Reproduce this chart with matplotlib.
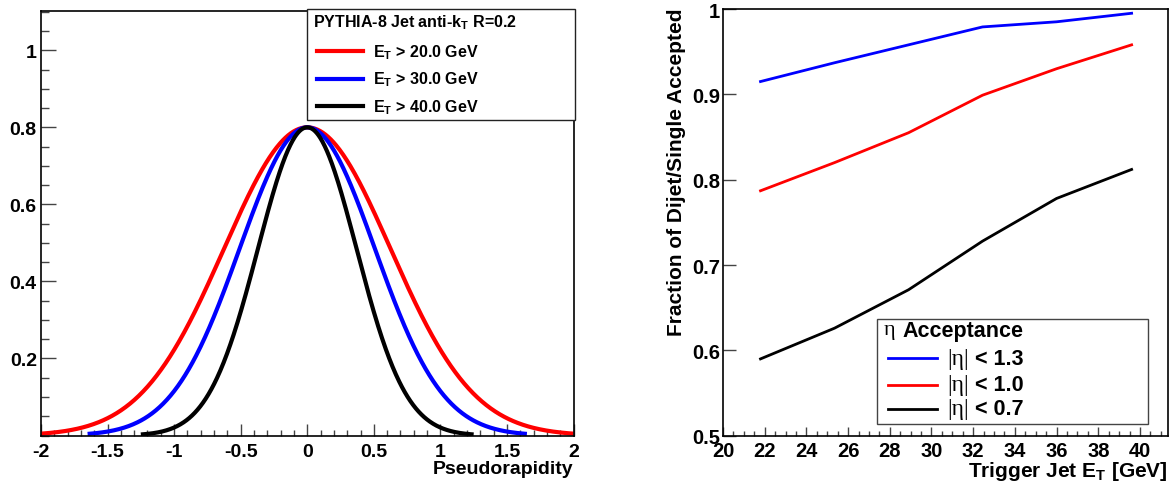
import numpy as np
import matplotlib
matplotlib.use("Agg")
import matplotlib.pyplot as plt
from matplotlib.lines import Line2D
from matplotlib.patches import Rectangle
from matplotlib.ticker import FixedLocator, FixedFormatter, MultipleLocator

# ---------------- data ----------------
# Left panel: Gaussian (ROOT TF1 "gaus") curves, parameters
cut_labels = ["E$_{\\mathbf{T}}$ > 20.0 GeV", "E$_{\\mathbf{T}}$ > 30.0 GeV", "E$_{\\mathbf{T}}$ > 40.0 GeV"]
cut_colors = ["#ff0000", "#0000ff", "#000000"]
gaus_amplitude = [0.8, 0.8, 0.8]
gaus_mean = [0.0, 0.0, 0.0]
gaus_sigma = [0.625, 0.508, 0.370]
gaus_range = [2.0, 1.65, 1.25]

left_xticks = [-2, -1.5, -1, -0.5, 0, 0.5, 1, 1.5, 2]
left_xticklabels = ["-2", "-1.5", "-1", "-0.5", "0", "0.5", "1", "1.5", "2"]
left_yticks = [0.2, 0.4, 0.6, 0.8, 1.0]
left_yticklabels = ["0.2", "0.4", "0.6", "0.8", "1"]

# Right panel: fraction of dijet/single accepted vs trigger jet ET
trigger_et = [21.8, 25.35, 28.9, 32.45, 36.0, 39.6]
frac_eta13 = [0.915, 0.937, 0.958, 0.979, 0.985, 0.995]
frac_eta10 = [0.787, 0.820, 0.855, 0.899, 0.930, 0.958]
frac_eta07 = [0.590, 0.626, 0.671, 0.728, 0.778, 0.812]
acc_labels = ["< 1.3", "< 1.0", "< 0.7"]
acc_colors = ["#0000ff", "#ff0000", "#000000"]

right_xticks = [20, 22, 24, 26, 28, 30, 32, 34, 36, 38, 40]
right_yticks = [0.5, 0.6, 0.7, 0.8, 0.9, 1.0]
right_yticklabels = ["0.5", "0.6", "0.7", "0.8", "0.9", "1"]

# ---------------- style ----------------
plt.rcParams["font.family"] = ["Liberation Sans", "DejaVu Sans"]
plt.rcParams["font.weight"] = "bold"
plt.rcParams["axes.unicode_minus"] = False
plt.rcParams["mathtext.fontset"] = "custom"
plt.rcParams["mathtext.rm"] = "Liberation Sans:bold"
plt.rcParams["mathtext.bf"] = "Liberation Sans:bold"
plt.rcParams["mathtext.it"] = "Liberation Sans:bold"

W, H = 1172, 485
fig = plt.figure(figsize=(W / 100, H / 100), dpi=100)

def fx(px):
    return px / W

def fy(py):
    return 1 - py / H

tick_col = "#444444"

# ---------------- left panel ----------------
ax1 = fig.add_axes([fx(41), fy(436.5), fx(573.5 - 41), (436.5 - 12) / H])
for amp, mu, sig, rng, col in zip(gaus_amplitude, gaus_mean, gaus_sigma, gaus_range, cut_colors):
    xs = np.linspace(-rng, rng, 600)
    ax1.plot(xs, amp * np.exp(-0.5 * ((xs - mu) / sig) ** 2), color=col, lw=3.0, solid_capstyle="butt")
ax1.set_xlim(-2, 2)
ax1.set_ylim(0, 1.102)
ax1.xaxis.set_major_locator(FixedLocator(left_xticks))
ax1.xaxis.set_major_formatter(FixedFormatter(left_xticklabels))
ax1.xaxis.set_minor_locator(MultipleLocator(0.1))
ax1.yaxis.set_major_locator(FixedLocator(left_yticks))
ax1.yaxis.set_major_formatter(FixedFormatter(left_yticklabels))
ax1.yaxis.set_minor_locator(MultipleLocator(0.05))
ax1.tick_params(axis="x", which="major", direction="in", length=8.5, width=1, color=tick_col,
                labelsize=14, pad=5.5, top=False)
ax1.tick_params(axis="x", which="minor", direction="in", length=4.3, width=1, color=tick_col, top=False)
ax1.tick_params(axis="y", which="major", direction="in", length=11, width=1, color=tick_col,
                labelsize=14, pad=3, right=False)
ax1.tick_params(axis="y", which="minor", direction="in", length=5.8, width=1, color=tick_col, right=False)
for lab in ax1.get_xticklabels() + ax1.get_yticklabels():
    lab.set_fontweight("bold")
for s in ax1.spines.values():
    s.set_linewidth(1.2)
    s.set_color("black")
fig.text(fx(573), fy(470), "Pseudorapidity", ha="right", va="center", fontsize=14, fontweight="bold")

# left legend (ROOT TLegend style)
fig.add_artist(Rectangle((fx(307.3), fy(120.7)), fx(575 - 307.3), (120.7 - 10) / H,
                         transform=fig.transFigure, facecolor="white", edgecolor="#222222", lw=1.0, zorder=5))
fig.text(fx(313), fy(23), "PYTHIA-8 Jet anti-k$_{\\mathbf{T}}$ R=0.2", ha="left", va="center",
         fontsize=11.5, fontweight="bold", zorder=6)
for row_y, lab, col in zip([52.3, 80, 107.3], cut_labels, cut_colors):
    fig.add_artist(Line2D([fx(316.7), fx(363.3)], [fy(row_y), fy(row_y)], transform=fig.transFigure,
                          color=col, lw=3.0, zorder=6))
    fig.text(fx(373), fy(row_y), lab, ha="left", va="center", fontsize=11.5, fontweight="bold", zorder=6)

# ---------------- right panel ----------------
ax2 = fig.add_axes([fx(723), fy(436.7), fx(1168.3 - 723), (436.7 - 10) / H])
for ys, col in zip([frac_eta13, frac_eta10, frac_eta07], acc_colors):
    ax2.plot(trigger_et, ys, color=col, lw=2.0)
ax2.set_xlim(20, 41.36)
ax2.set_ylim(0.5, 1.0)
ax2.xaxis.set_major_locator(FixedLocator(right_xticks))
ax2.xaxis.set_major_formatter(FixedFormatter([str(v) for v in right_xticks]))
ax2.xaxis.set_minor_locator(MultipleLocator(0.5))
ax2.yaxis.set_major_locator(FixedLocator(right_yticks))
ax2.yaxis.set_major_formatter(FixedFormatter(right_yticklabels))
ax2.tick_params(axis="x", which="major", direction="in", length=6.7, width=1, color=tick_col,
                labelsize=14.5, pad=4, top=False)
ax2.tick_params(axis="x", which="minor", direction="in", length=3.6, width=1, color=tick_col, top=False)
ax2.tick_params(axis="y", which="major", direction="in", length=9.4, width=1, color=tick_col,
                labelsize=14.5, pad=2, right=False)
for lab in ax2.get_xticklabels() + ax2.get_yticklabels():
    lab.set_fontweight("bold")
for s in ax2.spines.values():
    s.set_linewidth(1.2)
    s.set_color("black")
fig.text(fx(1168), fy(472), "Trigger Jet E$_{\\mathbf{T}}$ [GeV]", ha="right", va="center",
         fontsize=15, fontweight="bold")
fig.text(fx(677), fy(9), "Fraction of Dijet/Single Accepted", ha="center", va="top",
         rotation=90, fontsize=15, fontweight="bold")

# right legend
fig.add_artist(Rectangle((fx(876.7), fy(425)), fx(1148 - 876.7), (425 - 320) / H,
                         transform=fig.transFigure, facecolor="white", edgecolor="#444444", lw=1.0, zorder=5))
fig.text(fx(883.3), fy(331), "η", ha="left", va="center", fontsize=16,
         family="Liberation Serif", fontweight="normal", zorder=6)
fig.text(fx(902), fy(331), "Acceptance", ha="left", va="center", fontsize=15.5, fontweight="bold", zorder=6)
for row_y, lab, col in zip([359.3, 386, 410], acc_labels, acc_colors):
    fig.add_artist(Line2D([fx(887.7), fx(936.7)], [fy(row_y), fy(row_y)], transform=fig.transFigure,
                          color=col, lw=2.0, zorder=6))
    fig.text(fx(947.5), fy(row_y), "|η|", ha="left", va="center", fontsize=17,
             family="Liberation Serif", fontweight="normal", zorder=6)
    fig.text(fx(975), fy(row_y), lab, ha="left", va="center", fontsize=15.5, fontweight="bold", zorder=6)

fig.savefig("out.png", dpi=100)
